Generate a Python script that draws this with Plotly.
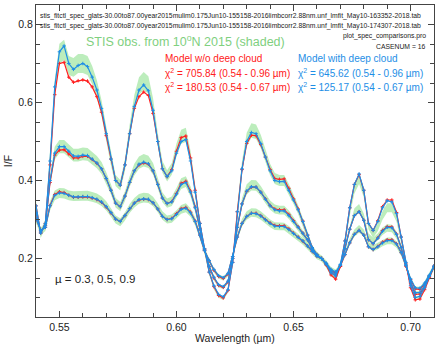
import plotly.graph_objects as go

# wavelength grid (microns)
wl = [round(0.540 + 0.002 * i, 3) for i in range(86)]

# mu = 0.9 (highest continuum)
obs_09 = [0.335, 0.262, 0.29, 0.45, 0.635, 0.725, 0.735, 0.695, 0.69, 0.70,
          0.70, 0.695, 0.67, 0.635, 0.585, 0.52, 0.455, 0.40, 0.388, 0.44,
          0.525, 0.598, 0.642, 0.655, 0.645, 0.59, 0.505, 0.435, 0.412, 0.43,
          0.478, 0.512, 0.517, 0.46, 0.375, 0.29, 0.22, 0.162, 0.125, 0.103,
          0.097, 0.116, 0.19, 0.325, 0.435, 0.505, 0.528, 0.525, 0.5, 0.462,
          0.428, 0.405, 0.4, 0.4, 0.378, 0.352, 0.325, 0.293, 0.258, 0.226,
          0.21, 0.2, 0.183, 0.16, 0.15, 0.182, 0.24, 0.32, 0.38, 0.405,
          0.37, 0.285, 0.262, 0.28, 0.31, 0.33, 0.33, 0.305, 0.25, 0.19,
          0.13, 0.1, 0.1, 0.122, 0.152, 0.178]
nocld_09 = [0.335, 0.265, 0.29, 0.44, 0.62, 0.70, 0.703, 0.665, 0.652, 0.656,
            0.658, 0.655, 0.64, 0.615, 0.575, 0.515, 0.455, 0.40, 0.388, 0.44,
            0.52, 0.585, 0.615, 0.627, 0.618, 0.572, 0.50, 0.43, 0.41, 0.428,
            0.475, 0.51, 0.514, 0.458, 0.375, 0.29, 0.225, 0.165, 0.128, 0.105,
            0.099, 0.118, 0.19, 0.32, 0.428, 0.495, 0.516, 0.515, 0.492, 0.46,
            0.428, 0.405, 0.403, 0.404, 0.38, 0.353, 0.327, 0.296, 0.26, 0.228,
            0.21, 0.2, 0.183, 0.158, 0.147, 0.18, 0.245, 0.33, 0.39, 0.415,
            0.375, 0.29, 0.272, 0.297, 0.333, 0.35, 0.35, 0.318, 0.255, 0.188,
            0.125, 0.094, 0.096, 0.12, 0.152, 0.18]
cld_09 = [0.335, 0.265, 0.29, 0.45, 0.64, 0.73, 0.745, 0.70, 0.685, 0.695,
          0.70, 0.692, 0.665, 0.632, 0.585, 0.52, 0.455, 0.40, 0.388, 0.44,
          0.52, 0.59, 0.632, 0.645, 0.63, 0.58, 0.50, 0.43, 0.41, 0.425,
          0.47, 0.50, 0.505, 0.45, 0.37, 0.29, 0.225, 0.165, 0.13, 0.108,
          0.102, 0.12, 0.19, 0.32, 0.43, 0.50, 0.523, 0.52, 0.495, 0.46,
          0.425, 0.40, 0.397, 0.398, 0.375, 0.35, 0.325, 0.295, 0.26, 0.228,
          0.21, 0.2, 0.185, 0.163, 0.155, 0.185, 0.245, 0.33, 0.39, 0.417,
          0.375, 0.29, 0.272, 0.295, 0.33, 0.348, 0.345, 0.315, 0.255, 0.19,
          0.13, 0.1, 0.103, 0.125, 0.155, 0.18]

# mu = 0.5
obs_05 = [0.318, 0.266, 0.285, 0.40, 0.47, 0.487, 0.487, 0.475, 0.465, 0.465,
          0.468, 0.467, 0.458, 0.447, 0.432, 0.407, 0.377, 0.343, 0.333, 0.36,
          0.397, 0.428, 0.446, 0.452, 0.448, 0.43, 0.393, 0.357, 0.342, 0.347,
          0.368, 0.392, 0.397, 0.372, 0.33, 0.274, 0.22, 0.177, 0.149, 0.13,
          0.126, 0.14, 0.2, 0.282, 0.343, 0.377, 0.388, 0.387, 0.373, 0.354,
          0.337, 0.327, 0.324, 0.324, 0.312, 0.296, 0.28, 0.264, 0.246, 0.224,
          0.207, 0.2, 0.186, 0.168, 0.16, 0.183, 0.228, 0.28, 0.318, 0.328,
          0.305, 0.255, 0.245, 0.255, 0.27, 0.278, 0.277, 0.26, 0.227, 0.185,
          0.14, 0.112, 0.112, 0.13, 0.155, 0.18]
nocld_05 = [0.318, 0.268, 0.285, 0.395, 0.465, 0.478, 0.479, 0.468, 0.458, 0.458,
            0.462, 0.462, 0.454, 0.444, 0.43, 0.405, 0.375, 0.342, 0.333, 0.36,
            0.395, 0.425, 0.44, 0.445, 0.442, 0.425, 0.39, 0.355, 0.341, 0.346,
            0.367, 0.393, 0.398, 0.373, 0.332, 0.276, 0.222, 0.179, 0.15, 0.131,
            0.126, 0.14, 0.2, 0.28, 0.34, 0.372, 0.383, 0.383, 0.37, 0.353,
            0.336, 0.327, 0.325, 0.325, 0.313, 0.297, 0.281, 0.265, 0.248, 0.225,
            0.208, 0.2, 0.185, 0.165, 0.156, 0.18, 0.225, 0.275, 0.31, 0.32,
            0.298, 0.248, 0.238, 0.253, 0.272, 0.282, 0.281, 0.263, 0.228, 0.183,
            0.137, 0.108, 0.109, 0.127, 0.153, 0.18]
cld_05 = [0.318, 0.268, 0.285, 0.40, 0.47, 0.487, 0.487, 0.475, 0.463, 0.462,
          0.465, 0.464, 0.455, 0.445, 0.43, 0.405, 0.375, 0.342, 0.333, 0.36,
          0.395, 0.425, 0.442, 0.447, 0.443, 0.425, 0.39, 0.355, 0.341, 0.345,
          0.365, 0.39, 0.395, 0.37, 0.33, 0.275, 0.222, 0.18, 0.152, 0.133,
          0.128, 0.142, 0.2, 0.28, 0.34, 0.373, 0.384, 0.383, 0.37, 0.352,
          0.335, 0.325, 0.322, 0.322, 0.31, 0.295, 0.28, 0.265, 0.248, 0.225,
          0.208, 0.2, 0.186, 0.168, 0.16, 0.183, 0.225, 0.275, 0.31, 0.32,
          0.298, 0.248, 0.238, 0.252, 0.27, 0.28, 0.279, 0.262, 0.228, 0.185,
          0.14, 0.112, 0.113, 0.13, 0.155, 0.18]

# mu = 0.3
obs_03 = [0.302, 0.27, 0.28, 0.335, 0.362, 0.368, 0.367, 0.362, 0.36, 0.36,
          0.361, 0.361, 0.358, 0.354, 0.347, 0.335, 0.318, 0.3, 0.293, 0.308,
          0.328, 0.343, 0.353, 0.356, 0.355, 0.346, 0.33, 0.31, 0.3, 0.302,
          0.313, 0.326, 0.33, 0.318, 0.295, 0.259, 0.219, 0.193, 0.17, 0.154,
          0.149, 0.16, 0.205, 0.256, 0.292, 0.31, 0.318, 0.317, 0.31, 0.3,
          0.29, 0.283, 0.282, 0.282, 0.274, 0.264, 0.254, 0.244, 0.231, 0.217,
          0.205, 0.2, 0.188, 0.172, 0.166, 0.183, 0.212, 0.243, 0.265, 0.276,
          0.265, 0.235, 0.226, 0.232, 0.24, 0.245, 0.245, 0.236, 0.214, 0.182,
          0.148, 0.124, 0.123, 0.137, 0.157, 0.18]
nocld_03 = [0.302, 0.272, 0.28, 0.336, 0.364, 0.371, 0.369, 0.362, 0.357, 0.357,
            0.358, 0.358, 0.355, 0.351, 0.344, 0.332, 0.317, 0.301, 0.295, 0.31,
            0.328, 0.342, 0.35, 0.352, 0.351, 0.343, 0.327, 0.308, 0.300, 0.303,
            0.315, 0.328, 0.331, 0.319, 0.296, 0.26, 0.22, 0.194, 0.17, 0.154,
            0.149, 0.16, 0.205, 0.255, 0.29, 0.308, 0.316, 0.316, 0.31, 0.3,
            0.291, 0.285, 0.284, 0.284, 0.276, 0.265, 0.255, 0.245, 0.232, 0.218,
            0.206, 0.2, 0.187, 0.17, 0.163, 0.18, 0.21, 0.24, 0.262, 0.272,
            0.26, 0.23, 0.223, 0.231, 0.242, 0.248, 0.248, 0.238, 0.215, 0.18,
            0.146, 0.122, 0.121, 0.134, 0.155, 0.18]
cld_03 = [0.302, 0.272, 0.28, 0.335, 0.362, 0.368, 0.367, 0.362, 0.358, 0.358,
          0.359, 0.359, 0.356, 0.352, 0.345, 0.333, 0.318, 0.301, 0.295, 0.31,
          0.328, 0.342, 0.351, 0.353, 0.352, 0.343, 0.327, 0.308, 0.300, 0.302,
          0.313, 0.326, 0.329, 0.317, 0.295, 0.26, 0.22, 0.195, 0.172, 0.156,
          0.151, 0.162, 0.205, 0.255, 0.29, 0.308, 0.316, 0.315, 0.309, 0.299,
          0.29, 0.283, 0.282, 0.282, 0.274, 0.264, 0.254, 0.245, 0.232, 0.218,
          0.206, 0.2, 0.188, 0.172, 0.166, 0.183, 0.21, 0.24, 0.262, 0.272,
          0.26, 0.23, 0.223, 0.23, 0.24, 0.246, 0.246, 0.237, 0.215, 0.182,
          0.148, 0.125, 0.124, 0.137, 0.157, 0.18]

obs_err = 0.035  # relative uncertainty of STIS I/F

RED = "#ff2020"
BLUE = "#1e8ee6"
GREEN_TXT = "#7fd07f"
BAND = "#bcedbc"
FONT = "Liberation Sans, Arial, sans-serif"

fig = go.Figure()

# observation bands
for obs in (obs_09, obs_05, obs_03):
    hi = [v * (1 + obs_err) for v in obs]
    lo = [v * (1 - obs_err) for v in obs]
    fig.add_trace(go.Scatter(x=wl + wl[::-1], y=hi + lo[::-1], fill="toself",
                             fillcolor=BAND, line=dict(width=0),
                             mode="lines", hoverinfo="skip"))

# models
for series, color in ((nocld_09, RED), (nocld_05, RED), (nocld_03, RED),
                      (cld_09, BLUE), (cld_05, BLUE), (cld_03, BLUE)):
    fig.add_trace(go.Scatter(x=wl, y=series, mode="lines+markers",
                             line=dict(color=color, width=1.2),
                             marker=dict(symbol="cross-thin", size=2.5,
                                         line=dict(color=color, width=1))))

notes = [
    ("stis_fitctl_spec_glats-30.00to87.00year2015mulim0.175Jun10-155158-2016limbcorr2.88nm.unf_lmfit_May10-163352-2018.tab",
     0.005, 0.965, "left", 6.8, "#222", 0),
    ("stis_fitctl_spec_glats-30.00to87.00year2015mulim0.175Jun10-155158-2016limbcorr2.88nm.unf_lmfit_May10-174307-2018.tab",
     0.005, 0.934, "left", 6.8, "#222", 0),
    ("plot_spec_comparisons.pro", 0.985, 0.902, "right", 6.8, "#222", 0),
    ("CASENUM = 16", 0.985, 0.866, "right", 6.8, "#222", 0),
    ("STIS obs. from 10<sup>o</sup>N 2015 (shaded)", 0.376, 0.885, "center", 12.5, GREEN_TXT, 0),
    ("Model w/o deep cloud", 0.319, 0.827, "left", 10, RED, 0),
    ("χ<sup>2</sup> = 705.84 (0.54 - 0.96 µm)", 0.319, 0.782, "left", 10, RED, 0),
    ("χ<sup>2</sup> = 180.53 (0.54 - 0.67 µm)", 0.319, 0.737, "left", 10, RED, 0),
    ("Model with deep cloud", 0.653, 0.827, "left", 10, BLUE, 0),
    ("χ<sup>2</sup> = 645.62 (0.54 - 0.96 µm)", 0.653, 0.782, "left", 10, BLUE, 0),
    ("χ<sup>2</sup> = 125.17 (0.54 - 0.67 µm)", 0.653, 0.737, "left", 10, BLUE, 0),
    ("µ = 0.3, 0.5, 0.9", 0.043, 0.122, "left", 11.5, "#222", 0),
    ("Wavelength (µm)", 0.5, -0.068, "center", 10.5, "#222", 0),
    ("I/F", -0.07, 0.5, "center", 10.5, "#222", -90),
]
for text, x, y, anchor, size, color, angle in notes:
    fig.add_annotation(text=text, x=x, y=y, xref="paper", yref="paper",
                       xanchor=anchor, yanchor="middle", showarrow=False,
                       textangle=angle,
                       font=dict(size=size, color=color, family=FONT))

axis_style = dict(showgrid=False, zeroline=False, showline=True, linecolor="#444",
                  linewidth=1, mirror="ticks", ticks="inside", ticklen=6,
                  tickcolor="#444", automargin=False,
                  tickfont=dict(size=10.5, color="#222", family=FONT))

fig.update_xaxes(range=[0.54, 0.71], dtick=0.05, tick0=0.55, tickformat=".2f",
                 minor=dict(dtick=0.01, ticks="inside", ticklen=4, tickcolor="#444"),
                 **axis_style)
fig.update_yaxes(range=[0.05, 0.85], dtick=0.2, tick0=0.2, tickformat=".1f",
                 minor=dict(dtick=0.05, ticks="inside", ticklen=4, tickcolor="#444"),
                 **axis_style)

fig.update_layout(width=443, height=345, showlegend=False,
                  margin=dict(l=36, r=9, t=5, b=28),
                  plot_bgcolor="white", paper_bgcolor="white",
                  font=dict(family=FONT))

# drop the browser's default page margin so the figure sits at the corner
fig.write_html("out.html", config={"displayModeBar": False},
               post_script="document.body.style.margin='0';")
